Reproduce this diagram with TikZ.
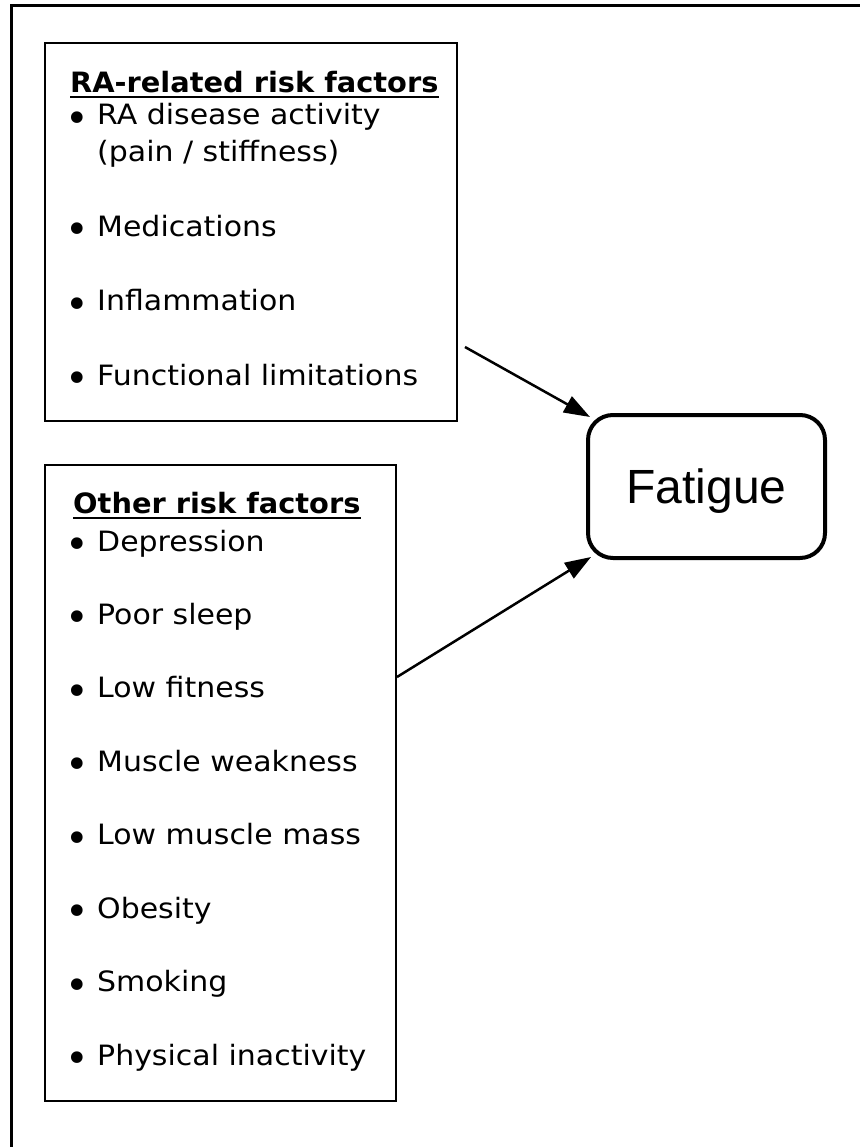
\documentclass[tikz,border=0pt]{standalone}
\usepackage{fontspec}
\usetikzlibrary{arrows.meta}
\newfontfamily\itemfont[FakeStretch=1.07]{DejaVu Sans}
\newfontfamily\bulfont{DejaVu Sans}
\newfontfamily\headfont[FakeStretch=1.03]{DejaVu Sans Bold}
\newfontfamily\fatfont{Liberation Sans}
\tikzset{
  frameline/.style={line width=3pt},
  listbox/.style={draw, line width=2.6pt},
  itemtext/.style={anchor=base west, inner sep=0pt, font=\itemfont\fontsize{28}{32}\selectfont},
  bullettext/.style={anchor=base, inner sep=0pt, yshift=-7.5pt, font=\bulfont\fontsize{40}{42}\selectfont},
  headtext/.style={anchor=base west, inner sep=0pt, font=\headfont\fontsize{28}{32}\selectfont},
  ul/.style={line width=2pt},
  fatbox/.style={draw, line width=4pt, rounded corners=25pt, minimum width=237pt, minimum height=143pt, inner sep=0pt,
    text height=34pt, text depth=0pt, font=\fatfont\fontsize{48}{52}\selectfont},
  arr/.style={line width=2.5pt, -{Triangle[length=26pt,width=18pt]}}
}
\begin{document}
\begin{tikzpicture}[x=1pt,y=-1pt]
\useasboundingbox (0,0) rectangle (860,1147);
% outer frame (top and left edges visible)
\draw[frameline] (11,1147) -- (11,6) -- (860,6);
% box 1
\draw[listbox] (45,43) rectangle (457,421);
\node[headtext] (h1) at (70,93) {RA-related risk factors};
\draw[ul] ([yshift=-4pt]h1.base west) -- ([yshift=-4pt]h1.base east);
\node[bullettext] (b11) at (77,125) {•};
\node[itemtext] (i11) at (97,125) {RA disease activity};
\node[itemtext] (i12) at (97,162) {(pain / stiffness)};
\node[bullettext] (b12) at (77,236.5) {•};
\node[itemtext] (i13) at (97,236.5) {Medications};
\node[bullettext] (b13) at (77,310.5) {•};
\node[itemtext] (i14) at (97,310.5) {Inflammation};
\node[bullettext] (b14) at (77,385) {•};
\node[itemtext] (i15) at (97,385) {Functional limitations};
% box 2
\draw[listbox] (45,465) rectangle (396,1101);
\node[headtext] (h2) at (73,513) {Other risk factors};
\draw[ul] ([yshift=-5pt]h2.base west) -- ([yshift=-5pt]h2.base east);
\foreach \y/\t [count=\k] in {551/Depression, 624.4/Poor sleep, 697.9/Low fitness, 771.3/Muscle weakness,
    844.7/Low muscle mass, 918.1/Obesity, 991.6/Smoking, 1065/Physical inactivity}{
  \node[bullettext] (b2\k) at (77,\y) {•};
  \node[itemtext] (i2\k) at (97,\y) {\t};
}
% fatigue
\node[fatbox] (fat) at (706.5,486.5) {Fatigue};
% connectors
\coordinate (s1) at (465,347);
\coordinate (s2) at (397,677);
\draw[arr] (s1) -- ([shift={(4pt,-4pt)}]fat.north west);
\draw[arr] (s2) -- ([shift={(5pt,3pt)}]fat.south west);
\end{tikzpicture}
\end{document}
